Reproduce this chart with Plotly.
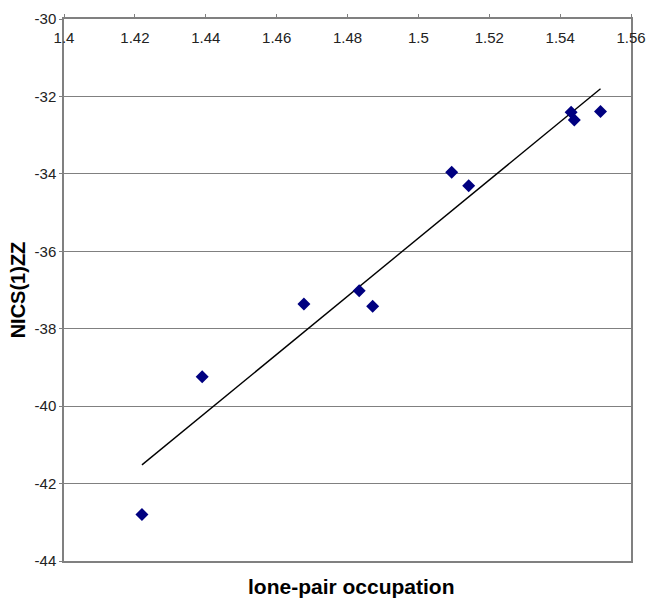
import numpy as np
import plotly.graph_objects as go

# Data
occupation = [1.422, 1.439, 1.4677, 1.4833, 1.4871, 1.5094, 1.5142, 1.5431, 1.5440, 1.5514]
nics_zz = [-42.80, -39.24, -37.36, -37.02, -37.42, -33.96, -34.31, -32.41, -32.61, -32.39]

x_tick_vals = [1.40, 1.42, 1.44, 1.46, 1.48, 1.50, 1.52, 1.54, 1.56]
x_tick_labels = ["1.4", "1.42", "1.44", "1.46", "1.48", "1.5", "1.52", "1.54", "1.56"]
y_tick_vals = [-44, -42, -40, -38, -36, -34, -32, -30]
y_tick_labels = ["-44", "-42", "-40", "-38", "-36", "-34", "-32", "-30"]

x_title = "lone-pair occupation"
y_title = "NICS(1)ZZ"

# Linear trendline (least squares) across the data range
slope, intercept = np.polyfit(occupation, nics_zz, 1)
trend_x = [min(occupation), max(occupation)]
trend_y = [slope * v + intercept for v in trend_x]

fig = go.Figure()
fig.add_trace(go.Scatter(
    x=trend_x, y=trend_y, mode="lines",
    line=dict(color="black", width=1.4),
    showlegend=False, hoverinfo="skip"))
fig.add_trace(go.Scatter(
    x=occupation, y=nics_zz, mode="markers",
    marker=dict(symbol="diamond", size=10, color="#000080", line=dict(width=0)),
    showlegend=False))

font_family = "Liberation Sans, Arial, sans-serif"

fig.update_layout(
    width=649, height=599,
    margin=dict(l=64, r=18, t=19, b=38, autoexpand=False),
    paper_bgcolor="white", plot_bgcolor="white",
    font=dict(family=font_family, size=15, color="#222222"),
    xaxis=dict(
        range=[1.40, 1.56], side="top",
        tickmode="array", tickvals=x_tick_vals, ticktext=x_tick_labels,
        ticklabelposition="outside", ticklabelstandoff=-35,
        ticks="outside", ticklen=3, tickcolor="#808080", tickwidth=1,
        showgrid=False, zeroline=False,
        showline=True, linecolor="#808080", linewidth=1.5, mirror=True,
        tickfont=dict(size=15, color="#222222"),
    ),
    yaxis=dict(
        range=[-44, -30],
        tickmode="array", tickvals=y_tick_vals, ticktext=y_tick_labels,
        ticks="outside", ticklen=3, tickcolor="#808080", tickwidth=1,
        showgrid=True, gridcolor="#808080", gridwidth=1.2,
        zeroline=False,
        showline=True, linecolor="#808080", linewidth=1.5, mirror=True,
        tickfont=dict(size=15, color="#222222"),
        title=dict(text=y_title, font=dict(size=20, color="black",
                   family="Liberation Sans, Arial, sans-serif", weight="bold"),
                   standoff=4),
    ),
    annotations=[dict(
        text="<b>" + x_title + "</b>", xref="paper", yref="paper",
        x=0.5, y=0, xanchor="center", yanchor="middle",
        xshift=4, yshift=-25, showarrow=False,
        font=dict(size=21, color="black", family=font_family),
    )],
)

fig.write_html("out.html", config={"displayModeBar": False},
               post_script="document.body.style.margin='0';")
